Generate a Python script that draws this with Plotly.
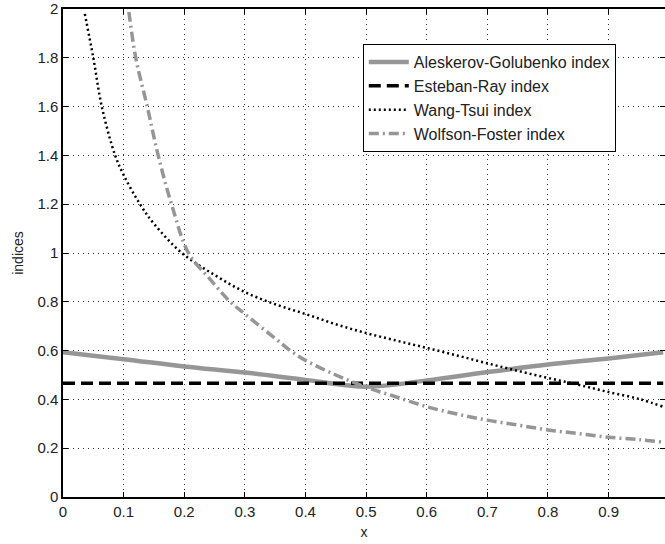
import plotly.graph_objects as go

# Data
ag_x = [0.0, 0.1, 0.2, 0.3, 0.4, 0.5, 0.6, 0.7, 0.8, 0.9, 0.99]
ag_y = [0.593, 0.565, 0.535, 0.51, 0.48, 0.452, 0.478, 0.512, 0.543, 0.568, 0.593]

er_x = [0.0, 0.99]
er_y = [0.466, 0.466]

wt_x = [0.036, 0.05, 0.064, 0.086, 0.1, 0.127, 0.15, 0.196, 0.25, 0.3, 0.35, 0.4, 0.45,
        0.5, 0.55, 0.6, 0.65, 0.7, 0.75, 0.8, 0.85, 0.9, 0.95, 0.99]
wt_y = [1.98, 1.8, 1.6, 1.4, 1.32, 1.2, 1.12, 1.0, 0.91, 0.84, 0.79, 0.75, 0.708,
        0.672, 0.641, 0.611, 0.58, 0.548, 0.517, 0.488, 0.46, 0.43, 0.402, 0.37]

wf_x = [0.1, 0.108, 0.12, 0.139, 0.157, 0.179, 0.207, 0.24, 0.276, 0.3, 0.35, 0.375, 0.4,
        0.45, 0.5, 0.55, 0.6, 0.65, 0.7, 0.75, 0.8, 0.85, 0.9, 0.95, 0.99]
wf_y = [2.15, 2.0, 1.8, 1.6, 1.4, 1.2, 1.0, 0.9, 0.8, 0.75, 0.65, 0.6, 0.56,
        0.5, 0.45, 0.41, 0.37, 0.34, 0.315, 0.295, 0.275, 0.26, 0.245, 0.235, 0.225]

x_ticks = [0, 0.1, 0.2, 0.3, 0.4, 0.5, 0.6, 0.7, 0.8, 0.9]
x_labels = ["0", "0.1", "0.2", "0.3", "0.4", "0.5", "0.6", "0.7", "0.8", "0.9"]
y_ticks = [0, 0.2, 0.4, 0.6, 0.8, 1.0, 1.2, 1.4, 1.6, 1.8, 2.0]
y_labels = ["0", "0.2", "0.4", "0.6", "0.8", "1", "1.2", "1.4", "1.6", "1.8", "2"]

GRAY = "#969696"
FONT = "Liberation Sans, Arial, sans-serif"

fig = go.Figure()
fig.add_trace(go.Scatter(x=ag_x, y=ag_y, mode="lines", name="Aleskerov-Golubenko index",
                         line=dict(color=GRAY, width=4.5, shape="spline")))
fig.add_trace(go.Scatter(x=er_x, y=er_y, mode="lines", name="Esteban-Ray index",
                         line=dict(color="black", width=3.5, dash="12px,6px")))
fig.add_trace(go.Scatter(x=wt_x, y=wt_y, mode="lines", name="Wang-Tsui index",
                         line=dict(color="black", width=2.5, dash="2px,3px", shape="spline")))
fig.add_trace(go.Scatter(x=wf_x, y=wf_y, mode="lines", name="Wolfson-Foster index",
                         line=dict(color=GRAY, width=3.5, dash="10px,4px,2px,4px", shape="spline")))

axis_common = dict(
    showline=True, linecolor="black", linewidth=1.5, mirror="ticks",
    ticks="inside", ticklen=5, tickcolor="black",
    showgrid=True, gridcolor="#333", gridwidth=1.2, griddash="1px,4px",
    zeroline=False, automargin=False,
    tickfont=dict(family=FONT, size=15, color="#222"),
)

fig.update_layout(
    width=665, height=544,
    margin=dict(l=63, r=0, t=9, b=47),
    paper_bgcolor="white", plot_bgcolor="white",
    font=dict(family=FONT, size=15, color="#222"),
    showlegend=True,
    legend=dict(x=0.498, y=0.928, xanchor="left", yanchor="top",
                bgcolor="white", bordercolor="black", borderwidth=1,
                font=dict(family=FONT, size=16, color="#222"),
                tracegroupgap=0, itemwidth=40),
    xaxis=dict(range=[0, 0.993], tickvals=x_ticks, ticktext=x_labels,
               title=dict(text="x", standoff=8, font=dict(family=FONT, size=14, color="#222")),
               **axis_common),
    yaxis=dict(range=[0, 2], tickvals=y_ticks, ticktext=y_labels,
               title=dict(text="indices", standoff=10, font=dict(family=FONT, size=14, color="#222")),
               **axis_common),
)

fig.write_html("out.html",
               config={"displayModeBar": False},
               post_script="document.body.style.margin='0';document.body.style.overflow='hidden';")
